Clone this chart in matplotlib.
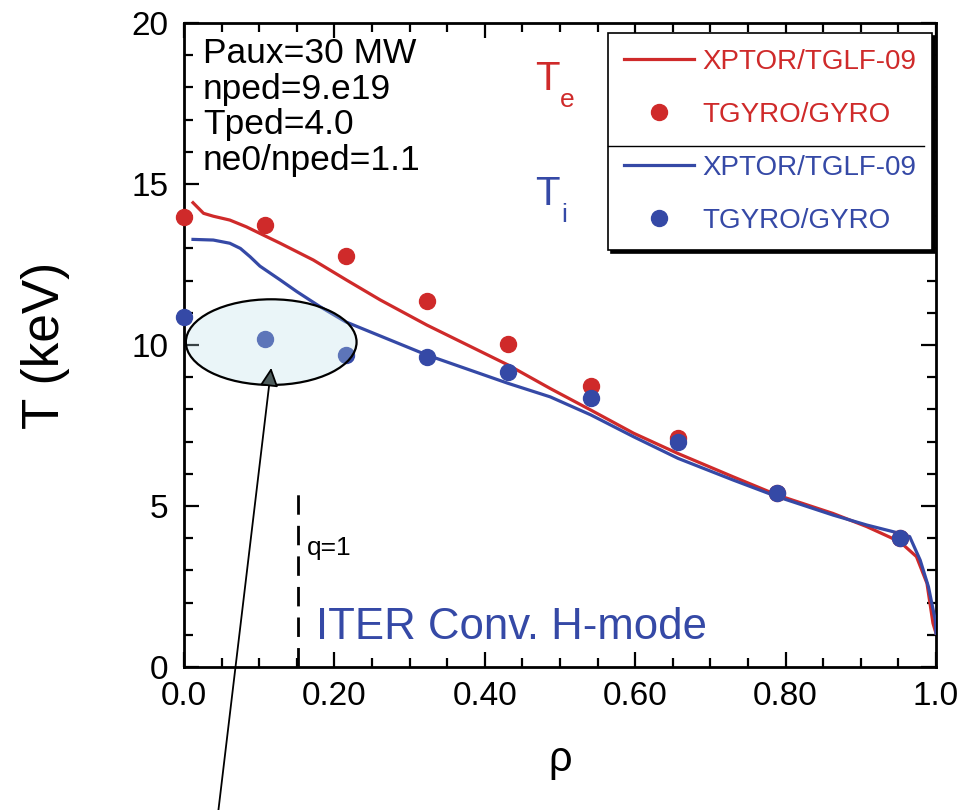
import matplotlib
matplotlib.use("Agg")
import matplotlib.pyplot as plt
from matplotlib.patches import Ellipse
from matplotlib.lines import Line2D

plt.rcParams['font.family'] = ['Liberation Sans', 'DejaVu Sans']

# ---- data ----
x_te_model = [0.012, 0.026, 0.039, 0.061, 0.083, 0.105, 0.128, 0.172, 0.216, 0.261,
              0.323, 0.431, 0.487, 0.541, 0.598, 0.657, 0.730, 0.789, 0.863, 0.908,
              0.952, 0.974, 0.988, 0.996, 1.0]
te_model = [14.42, 14.09, 14.00, 13.88, 13.67, 13.42, 13.16, 12.64, 12.02, 11.40,
            10.62, 9.38, 8.65, 7.98, 7.26, 6.63, 5.91, 5.34, 4.77, 4.36,
            3.89, 3.43, 2.60, 1.36, 1.05]

x_ti_model = [0.012, 0.039, 0.061, 0.075, 0.088, 0.101, 0.128, 0.150, 0.181, 0.215,
              0.323, 0.431, 0.487, 0.541, 0.598, 0.657, 0.730, 0.789, 0.863, 0.908,
              0.952, 0.965, 0.979, 0.990, 0.999, 1.0]
ti_model = [13.28, 13.26, 13.16, 13.00, 12.74, 12.45, 12.02, 11.66, 11.19, 10.72,
            9.69, 8.81, 8.39, 7.83, 7.15, 6.48, 5.81, 5.29, 4.72, 4.41,
            4.15, 4.05, 3.32, 2.49, 1.46, 1.05]

rho_gyro = [0.0, 0.108, 0.215, 0.323, 0.431, 0.541, 0.657, 0.789, 0.952]
te_gyro = [13.97, 13.72, 12.77, 11.38, 10.02, 8.73, 7.12, 5.39, 4.00]
ti_gyro = [10.88, 10.20, 9.68, 9.64, 9.15, 8.34, 7.00, 5.39, 4.00]

x_ticks = [0.0, 0.2, 0.4, 0.6, 0.8, 1.0]
x_ticklabels = ['0.0', '0.20', '0.40', '0.60', '0.80', '1.0']
y_ticks = [0, 5, 10, 15, 20]

info_lines = ['Paux=30 MW', 'nped=9.e19', 'Tped=4.0', 'ne0/nped=1.1']

RED = '#cf2a2a'
BLUE = '#3549a6'

fig = plt.figure(figsize=(9.76, 8.10), dpi=100)
ax = fig.add_axes([0.1885, 0.1765, 0.7705, 0.7951])

l_te, = ax.plot(x_te_model, te_model, color=RED, lw=2.3, zorder=3,
                label='XPTOR/TGLF-09')
l_ti, = ax.plot(x_ti_model, ti_model, color=BLUE, lw=2.3, zorder=3.1,
                label='XPTOR/TGLF-09')
p_te, = ax.plot(rho_gyro, te_gyro, 'o', color=RED, ms=11.5, clip_on=False,
                zorder=4, label='TGYRO/GYRO')
p_ti, = ax.plot(rho_gyro, ti_gyro, 'o', color=BLUE, ms=11.5, clip_on=False,
                zorder=4.1, label='TGYRO/GYRO')

ax.set_xlim(0, 1)
ax.set_ylim(0, 20)
ax.set_xticks(x_ticks)
ax.set_xticklabels(x_ticklabels)
ax.set_xticks([i * 0.05 for i in range(21)], minor=True)
ax.set_yticks(y_ticks)
ax.set_yticks(list(range(21)), minor=True)
ax.tick_params(which='both', direction='in', top=True, right=True,
               labelsize=24, width=1.6)
ax.tick_params(axis='x', pad=10)
ax.tick_params(axis='y', pad=11)
ax.tick_params(which='major', length=11)
ax.tick_params(which='minor', length=6.5)
for sp in ax.spines.values():
    sp.set_linewidth(2.0)

ax.set_ylabel('T (keV)', fontsize=37, labelpad=44)
ax.set_xlabel('ρ', fontsize=30, labelpad=20)

# info text block
for i, line in enumerate(info_lines):
    ax.text(0.025, 18.76 - i * 1.11, line, fontsize=25.5, va='baseline', ha='left')

# Te / Ti labels
ax.text(0.467, 17.92, 'T', color=RED, fontsize=29, va='baseline')
ax.text(0.500, 17.39, 'e', color=RED, fontsize=19, va='baseline')
ax.text(0.467, 14.35, 'T', color=BLUE, fontsize=29, va='baseline')
ax.text(0.502, 13.82, 'i', color=BLUE, fontsize=19, va='baseline')

# q=1 dashed line
ax.plot([0.152, 0.152], [0, 5.56], color='black', lw=2.0,
        dashes=(7, 4), zorder=2)
ax.text(0.164, 3.48, 'q=1', fontsize=19, va='baseline')

ax.text(0.176, 0.87, 'ITER Conv. H-mode', color=BLUE, fontsize=31.5,
        va='baseline')

# ellipse highlight
ell = Ellipse((0.116, 10.09), 0.227, 2.66, facecolor=(188/255, 222/255, 232/255, 0.3),
              edgecolor='black', lw=1.6, zorder=6, clip_on=False)
ax.add_patch(ell)

# arrow
ax.annotate('', xy=(0.116, 9.29), xytext=(0.045, -4.6),
            arrowprops=dict(arrowstyle='-|>', mutation_scale=28, lw=1.3,
                            fc='#4d5c5c', ec='black', shrinkA=0, shrinkB=0),
            annotation_clip=False, zorder=7)

# legend
leg = ax.legend(handles=[l_te, p_te, l_ti, p_ti], loc='upper right',
                bbox_to_anchor=(0.9947, 0.9845), borderaxespad=0,
                fontsize=20, labelspacing=0.97, handlelength=2.52,
                handletextpad=0.28, borderpad=0.58, fancybox=False,
                framealpha=1, edgecolor='black',
                shadow={'color': 'black', 'alpha': 1}, labelcolor='linecolor',
                numpoints=1)
leg.get_frame().set_linewidth(1.2)
leg.set_zorder(8)
for h in leg.legend_handles:
    if h.get_marker() == 'o':
        h.set_markersize(11.5)

fig.canvas.draw()
bb = leg.get_window_extent().transformed(ax.transAxes.inverted())
ymid = bb.y0 + (bb.y1 - bb.y0) * 0.48
ax.add_line(Line2D([bb.x0, bb.x1 - 0.01], [ymid, ymid], transform=ax.transAxes,
                   color='black', lw=1.0, zorder=9))

fig.savefig('out.png', dpi=100)
